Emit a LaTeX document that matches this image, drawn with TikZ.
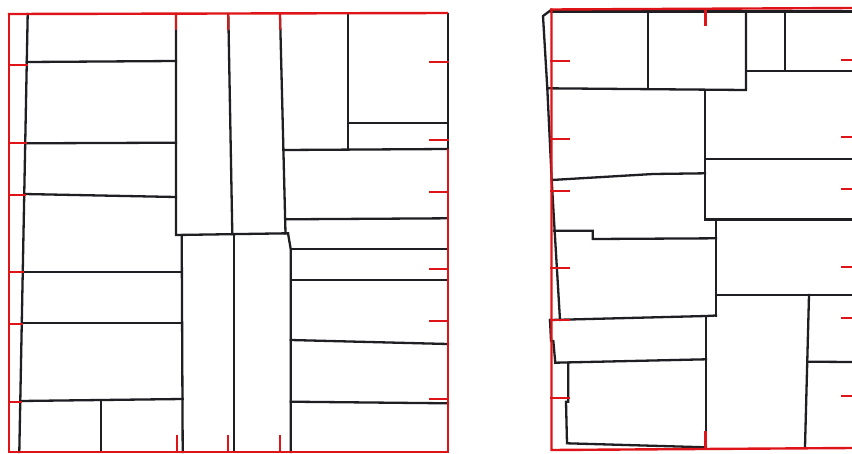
\documentclass[tikz,border=0pt]{standalone}
\begin{document}
\begin{tikzpicture}[x=1pt,y=-1pt,
  wall/.style={draw={rgb,255:red,30;green,30;blue,35},line width=2.3pt,line join=miter,line cap=rect},
  rline/.style={draw={rgb,255:red,222;green,20;blue,25},line width=2.4pt,line cap=rect}]
\useasboundingbox (0,0) rectangle (852,453);
\fill[white] (0,0) rectangle (852,453);
% ================= LEFT PANEL =================
% walls
\draw[wall] (27.7,14) -- (19.3,452);
\draw[wall] (447.7,14) -- (447.7,150);
\draw[wall] (26.8,62) -- (176,61);
\draw[wall] (25.2,143.3) -- (176,142.7);
\draw[wall] (24.2,194) -- (176,197);
\draw[wall] (176,14) -- (176,235) -- (288,233.3);
\draw[wall] (22.8,271.7) -- (182,271.7);
\draw[wall] (21.8,322.7) -- (182.3,322.7);
\draw[wall] (20.3,401) -- (182.7,399);
\draw[wall] (181.7,235) -- (182.7,452);
\draw[wall] (101,400) -- (101,452);
\draw[wall] (228.3,14) -- (232.3,234);
\draw[wall] (280,14) -- (285.5,233.5);
\draw[wall] (234,234) -- (234,452);
\draw[wall] (288,233.3) -- (290.7,249) -- (290.7,452);
\draw[wall] (348.3,14) -- (348.3,150);
\draw[wall] (348.3,122.7) -- (447.7,122.7);
\draw[wall] (283.3,150) -- (447.7,149);
\draw[wall] (286,219.3) -- (447.7,218.3);
\draw[wall] (290.7,249) -- (448,249);
\draw[wall] (290.7,280) -- (448,280);
\draw[wall] (290.7,340) -- (448,344);
\draw[wall] (290.7,401.7) -- (448,403.3);
% red frame and ticks
\draw[rline] (9,14) -- (447,13);
\draw[rline] (9,14) -- (9,452) -- (448,452) -- (448,150);
\foreach \y/\x in {65/27,143/26,195/25,272/23,324/22,402/21}
  \draw[rline] (9,\y) -- (\x,\y);
\foreach \y in {62,140,192,269,321,399}
  \draw[rline] (430,\y) -- (448,\y);
\foreach \x in {176,228,280}
  \draw[rline] (\x,14) -- (\x,29);
\foreach \x in {177,228,280}
  \draw[rline] (\x,436) -- (\x,452);
% ================= RIGHT PANEL =================
\draw[wall] (551,11.5) -- (852,11.5);
\draw[wall] (551,10) -- (543,16) -- (547.3,88.3) -- (551.7,180) -- (554,220) -- (560,320);
\draw[wall] (648.3,11) -- (648.3,88.3);
\draw[wall] (547.3,88.3) -- (746,90) -- (746,11);
\draw[wall] (746,71) -- (852,71);
\draw[wall] (785,11) -- (785,71);
\draw[wall] (705,90) -- (705,219.5);
\draw[wall] (705,159) -- (852,159);
\draw[wall] (705,219.5) -- (852,219.5);
\draw[wall] (551.7,180) -- (653,174) -- (705,173.3);
\draw[wall] (554,230.7) -- (592.7,230.7) -- (592.7,239) -- (716,238.3);
\draw[wall] (716,219.5) -- (716,315.5);
\draw[wall] (716,295) -- (852,295);
\draw[wall] (550,320) -- (706,316) -- (716,315.5);
\draw[wall] (550,320) -- (551,340.7) -- (553.3,341) -- (555.3,362.7) -- (706,359.3);
\draw[wall] (706,316) -- (706,449);
\draw[wall] (568.3,362.7) -- (568.3,401.7) -- (566,401.7) -- (567,443.3) -- (706,447.3);
\draw[wall] (809,295) -- (805,447);
\draw[wall] (808,361.7) -- (852,362);
% red frame and ticks
\draw[rline] (551.5,9.5) -- (852,8);
\draw[rline] (551.5,9.5) -- (551.5,450) -- (852,448);
\foreach \y in {61,139,191,268,320,398}
  \draw[rline] (551.5,\y) -- (569,\y);
\foreach \y in {60,137,189,267,318,396}
  \draw[rline] (842,\y) -- (852,\y);
\draw[rline] (705.5,9.5) -- (705.5,25);
\draw[rline] (705.5,432) -- (705.5,449);
\end{tikzpicture}
\end{document}
